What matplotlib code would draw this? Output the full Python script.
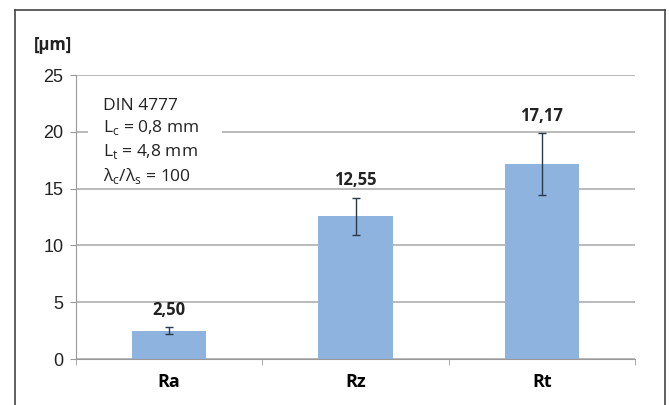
import matplotlib.pyplot as plt
from matplotlib.lines import Line2D
from matplotlib.patches import Rectangle

categories = ['Ra', 'Rz', 'Rt']
values = [2.50, 12.55, 17.17]
errors = [0.30, 1.65, 2.70]
value_labels = ['2,50', '12,55', '17,17']
yticks = [0, 5, 10, 15, 20, 25]

plt.rcParams['font.family'] = ['Liberation Sans', 'DejaVu Sans']

fig = plt.figure(figsize=(6.69, 4.05), dpi=100)
ax = fig.add_axes([76/669, 1-359/405, (635-76)/669, (359-75)/405])

x = range(len(categories))
ax.bar(x, values, width=0.4, color='#8db3de', zorder=2)
ax.errorbar(x, values, yerr=errors, fmt='none', ecolor='#2b3a4a',
            elinewidth=1, capsize=3, capthick=1, zorder=3)

for i, (v, e, lab) in enumerate(zip(values, errors, value_labels)):
    ax.annotate(lab, (i, v + e), xytext=(0, 6), textcoords='offset points',
                ha='center', va='bottom', fontsize=12, fontweight='bold',
                family=['Open Sans', 'DejaVu Sans'], color='#222222')

ax.set_xlim(-0.5, 2.5)
ax.set_ylim(0, 25)
ax.set_yticks(yticks)
ax.yaxis.grid(True, color='#b4b4b4', linewidth=1.3, zorder=0)
ax.set_axisbelow(True)

ax.set_xticks(x)
ax.set_xticklabels(categories, fontsize=13, fontweight='bold',
                   family=['Open Sans', 'DejaVu Sans'])
ax.set_xticks([-0.5, 0.5, 1.5, 2.5], minor=True)
ax.tick_params(axis='x', which='major', length=0, pad=10)
ax.tick_params(axis='x', which='minor', length=4, color='#999999')
ax.tick_params(axis='y', length=4, color='#999999', labelsize=13, pad=5,
               labelcolor='#222222')

for s in ['top', 'right']:
    ax.spines[s].set_visible(False)
ax.spines['left'].set_color('#999999')
ax.spines['bottom'].set_color('#999999')

ax.text(-0.075, 1.106, '[µm]', transform=ax.transAxes, fontsize=12,
        fontweight='bold', family=['Open Sans', 'DejaVu Sans'],
        ha='left', va='center', color='#222222')

# white text box hiding the gridline behind it
ax.add_patch(Rectangle((-0.436, 15.4), 0.72, 8.3, facecolor='white',
                       edgecolor='none', zorder=1))
info = ('DIN 4777\n'
        r'L$_\mathregular{c}$ = 0,8 mm' '\n'
        r'L$_\mathregular{t}$ = 4,8 mm' '\n'
        r'λ$_\mathregular{c}$/λ$_\mathregular{s}$ = 100')
ax.text(-0.355, 23.0, info, fontsize=12.5, family=['Open Sans', 'DejaVu Sans'],
        ha='left', va='top', linespacing=1.33, color='#222222', zorder=4)

# outer frame
fig.add_artist(Line2D([15/669, 15/669], [0, 1-10/405], color='#444444', lw=1.2))
fig.add_artist(Line2D([665/669, 665/669], [0, 1-10/405], color='#444444', lw=1.2))
fig.add_artist(Line2D([15/669, 665/669], [1-10/405, 1-10/405], color='#444444', lw=1.2))

fig.savefig('out.png', dpi=100)
